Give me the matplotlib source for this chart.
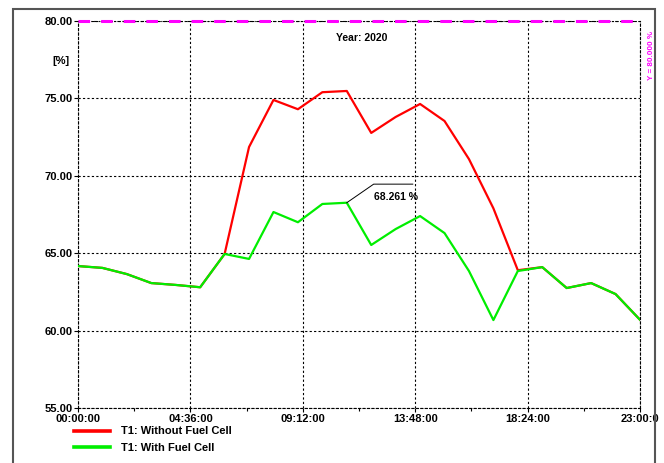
import matplotlib
matplotlib.use("Agg")
import matplotlib.pyplot as plt
from matplotlib.patches import Rectangle

plt.rcParams['font.family'] = ['Liberation Sans', 'DejaVu Sans']

hours = list(range(24))
without_fc = [64.17, 64.05, 63.65, 63.07, 62.95, 62.8, 64.95, 71.86, 74.9, 74.3, 75.4, 75.48,
              72.77, 73.8, 74.64, 73.54, 71.08, 67.9, 63.9, 64.1, 62.75, 63.07, 62.36, 60.7]
with_fc = [64.17, 64.05, 63.65, 63.07, 62.95, 62.8, 64.95, 64.63, 67.66, 67.0, 68.18, 68.261,
           65.53, 66.56, 67.4, 66.3, 63.85, 60.68, 63.85, 64.1, 62.75, 63.07, 62.36, 60.7]
x_ticks = [0, 4.6, 9.2, 13.8, 18.4, 23]
x_labels = ["00:00:00", "04:36:00", "09:12:00", "13:48:00", "18:24:00", "23:00:0"]
y_ticks = [55, 60, 65, 70, 75, 80]
y_labels = ["55.00", "60.00", "65.00", "70.00", "75.00", "80.00"]
ref_y = 80.0
peak_idx = 11

fig = plt.figure(figsize=(6.64, 4.63), dpi=100)
fig.patches.append(Rectangle((13/664, -0.05), (655-13)/664, 1.05 - 9/463, transform=fig.transFigure,
                             fill=False, edgecolor='#555555', linewidth=1.5))
ax = fig.add_axes([78/664, 1-408/463, (640-78)/664, (408-21)/463])
ax.set_xlim(0, 23)
ax.set_ylim(55, 80)

for s in ax.spines.values():
    s.set_linestyle((0, (2, 2)))
    s.set_linewidth(0.8)
    s.set_color('black')
ax.spines['top'].set_visible(False)

ax.set_xticks(x_ticks)
ax.set_xticklabels(x_labels, fontsize=8, fontweight='bold')
ax.set_xticks([2.3, 6.9, 11.5, 16.1, 20.7], minor=True)
ax.set_yticks(y_ticks)
ax.set_yticklabels(y_labels, fontsize=8, fontweight='bold')
ax.tick_params(axis='both', which='major', length=3, width=0.8, pad=1)
ax.tick_params(axis='x', which='minor', length=2, width=0.8)
ax.grid(True, which='major', color='black', linestyle=(0, (2, 2)), linewidth=0.8)

l1, = ax.plot(hours, without_fc, color='#ff0000', lw=1.6, label='T1: Without Fuel Cell', zorder=3)
l2, = ax.plot(hours, with_fc, color='#00ee00', lw=1.6, label='T1: With Fuel Cell', zorder=4)

ax.axhline(ref_y, color='black', lw=0.8, linestyle=(0, (3, 1.5, 1, 1.5)), zorder=5, clip_on=False)
ax.axhline(ref_y, color='#ff00ff', lw=2.2, linestyle=(0, (3.8, 3.6)), zorder=6, clip_on=False)
ax.text(23.47, 77.75, "Y = 80.000 %", rotation=90, color='#ff00ff', fontsize=5.8, fontweight='bold',
        ha='center', va='center', clip_on=False)

ax.text(0.505, 0.955, "Year: 2020", transform=ax.transAxes, fontsize=7.5, fontweight='bold',
        ha='center', va='center')
ax.text(-0.015, 77.4, "[%]", transform=ax.get_yaxis_transform(), fontsize=8, fontweight='bold',
        ha='right', va='center')

px, py = hours[peak_idx], with_fc[peak_idx]
ax.plot([px, px + 1.1, px + 2.7], [py, py + 1.2, py + 1.2], color='black', lw=0.7, zorder=7)
ax.text(px + 1.1, py + 0.4, f"{py:.3f} %", fontsize=7.5, fontweight='bold', ha='left', va='center')

leg = fig.legend(handles=[l1, l2], loc='upper left', bbox_to_anchor=(70/664, 1-422/463),
                 frameon=False, prop={'weight': 'bold', 'size': 8},
                 handlelength=3.2, handletextpad=1.0, labelspacing=0.6, borderaxespad=0)
for h in leg.get_lines():
    h.set_linewidth(2.6)

fig.savefig("out.png", dpi=100)
